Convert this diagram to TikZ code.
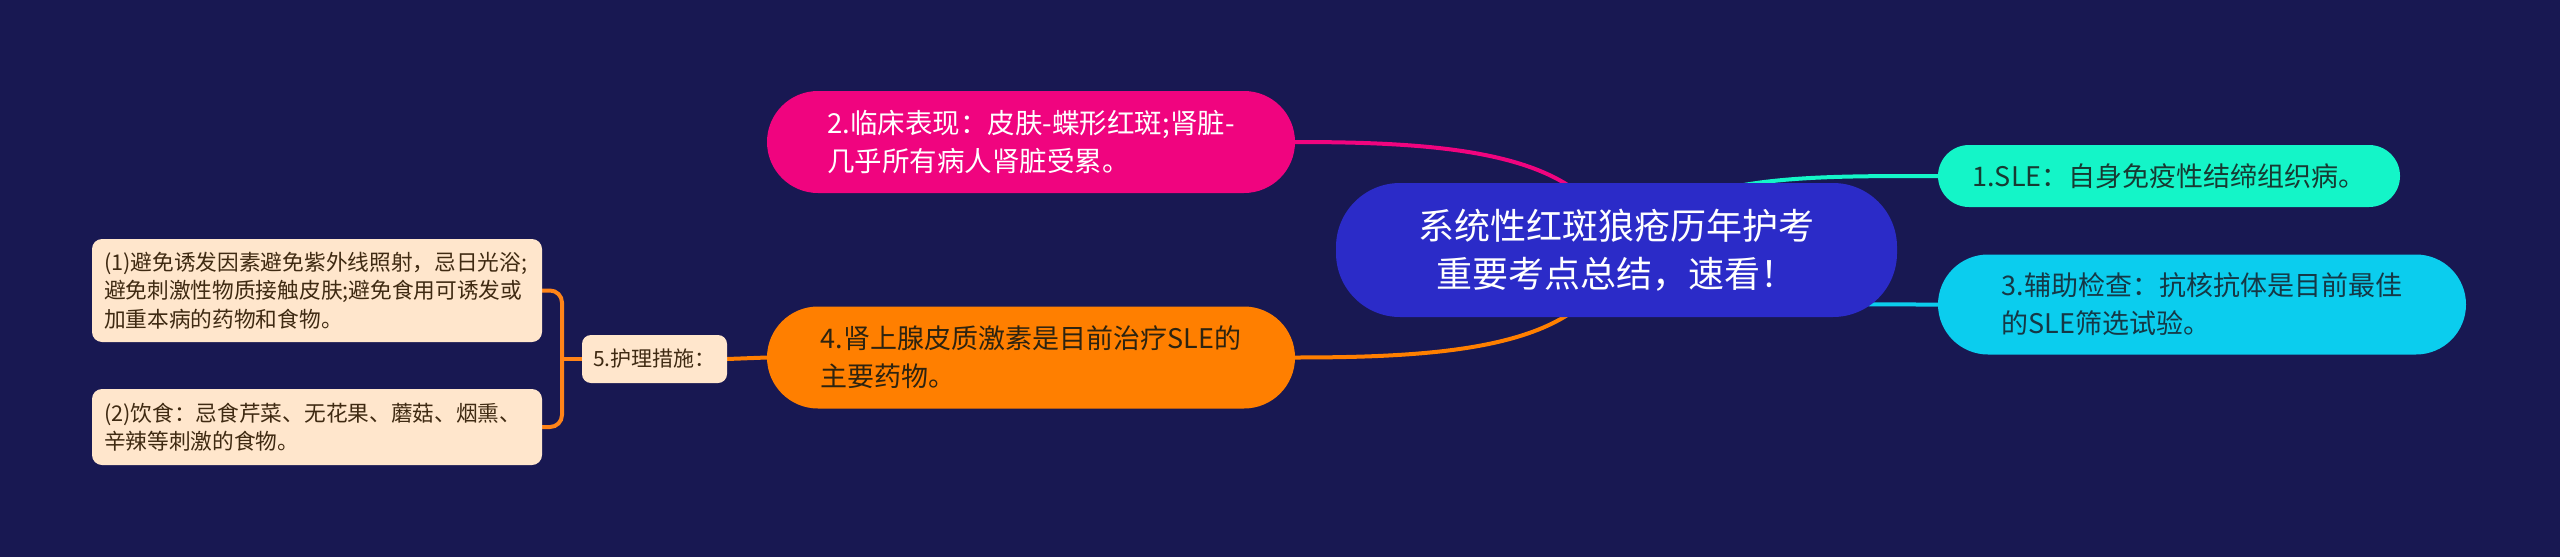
\documentclass[tikz,border=0pt]{standalone}
\usepackage{fontspec}
\setmainfont{Noto Sans CJK SC}
\usetikzlibrary{backgrounds}
\definecolor{bgc}{HTML}{181852}
\definecolor{rootc}{HTML}{2B2BC8}
\definecolor{pinkc}{HTML}{F0047F}
\definecolor{orangec}{HTML}{FF7F00}
\definecolor{tealc}{HTML}{14F5C8}
\definecolor{cyanc}{HTML}{0BCDEE}
\definecolor{leafc}{HTML}{FFE6CC}
\definecolor{darktxt}{HTML}{2D2310}
\definecolor{teatxt}{HTML}{173A32}
\definecolor{cyatxt}{HTML}{153846}
\definecolor{leaftxt}{HTML}{3F2A12}
\definecolor{brk}{HTML}{FF8418}
\tikzset{
  pill/.style={rectangle, inner sep=0pt, align=left},
  leafbox/.style={rectangle, fill=leafc, rounded corners=10pt, inner xsep=12pt, inner ysep=0pt,
     text width=426pt, align=left, minimum height=#1, text=leaftxt,
     font=\fontsize{21.7}{28.5}\selectfont},
  conn/.style={line width=4pt, line cap=round},
}
\begin{document}
\begin{tikzpicture}[x=1pt,y=-1pt]
\useasboundingbox (0,0) rectangle (2560,557);
% nodes
\node[pill, fill=rootc, rounded corners=64pt, minimum width=561pt, minimum height=134pt,
      text=white, align=center, font=\fontsize{36}{48}\selectfont]
  (root) at (1616.5,250) {系统性红斑狼疮历年护考\\重要考点总结，速看！};
\node[pill, fill=pinkc, rounded corners=51pt, minimum width=528pt, minimum height=102pt,
      text=white, font=\fontsize{27.5}{38}\selectfont]
  (n2) at (1031,142) {2.临床表现：皮肤-蝶形红斑;肾脏-\\几乎所有病人肾脏受累。};
\node[pill, fill=orangec, rounded corners=51pt, minimum width=528pt, minimum height=102pt,
      text=darktxt, font=\fontsize{27}{38}\selectfont]
  (n4) at (1031,357.5) {4.肾上腺皮质激素是目前治疗SLE的\\主要药物。};
\node[pill, fill=tealc, rounded corners=31pt, minimum width=462pt, minimum height=62pt,
      text=teatxt, font=\fontsize{27}{38}\selectfont]
  (n1) at (2169,176) {1.SLE：自身免疫性结缔组织病。};
\node[pill, fill=cyanc, rounded corners=50pt, minimum width=528pt, minimum height=100pt,
      text=cyatxt, font=\fontsize{27}{38}\selectfont]
  (n3) at (2202,304.5) {3.辅助检查：抗核抗体是目前最佳\\的SLE筛选试验。};
\node[rectangle, fill=leafc, rounded corners=9pt, minimum width=145pt, minimum height=48pt,
      inner sep=0pt, text=leaftxt, font=\fontsize{21}{28}\selectfont]
  (n5) at (654.5,359) {5.护理措施：};
\node[leafbox=103pt] (l1) at (317,290.5)
  {(1)避免诱发因素避免紫外线照射，忌日光浴;\\避免刺激性物质接触皮肤;避免食用可诱发或\\加重本病的药物和食物。};
\node[leafbox=76pt] (l2) at (317,427)
  {(2)饮食：忌食芹菜、无花果、蘑菇、烟熏、\\辛辣等刺激的食物。};
\coordinate (bx) at (562,359);
\begin{pgfonlayer}{background}
\fill[bgc] (0,0) rectangle (2560,557);
\draw[conn, pinkc] (root.center) .. controls +(-25,-95) and +(165,0) .. (n2.east);
\draw[conn, orangec] (root.center) .. controls +(-25,95) and +(165,0) .. (n4.east);
\draw[conn, tealc] (root.center) .. controls +(63,-75) and +(-150,0) .. (n1.west);
\draw[conn, cyanc] (root.center) .. controls +(83,55) and +(-138,0) .. (n3.west);
\draw[conn, orangec] (n5.east) -- (n4.west);
\draw[line width=4pt, brk, rounded corners=12pt] (l1.east) -| (bx) |- (l2.east);
\draw[line width=4pt, brk] (n5.west) -- (bx);
\end{pgfonlayer}
\end{tikzpicture}
\end{document}
